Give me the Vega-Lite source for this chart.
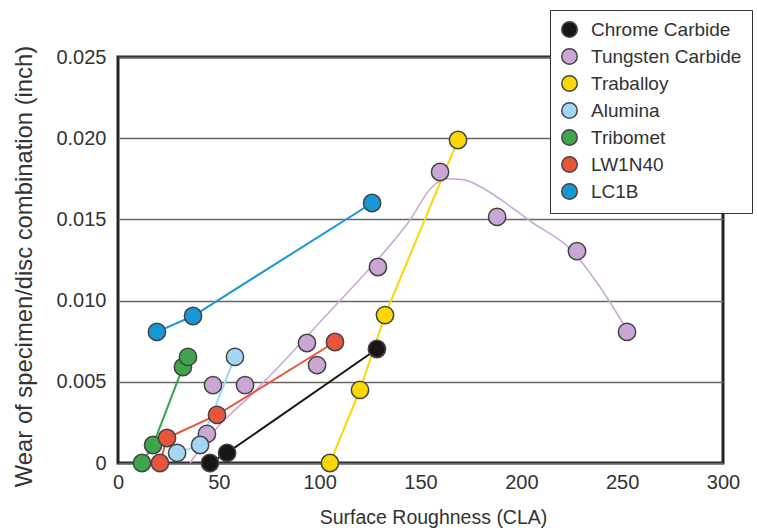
{
  "$schema": "https://vega.github.io/schema/vega-lite/v6.json",
  "width": 605,
  "height": 406,
  "autosize": {"type": "none"},
  "padding": {"left": 118, "top": 57, "right": 34, "bottom": 68},
  "background": "white",
  "config": {
    "font": "Liberation Sans",
    "view": {"stroke": "#222", "strokeWidth": 3},
    "axis": {"labelColor": "#333", "titleColor": "#333", "titleFontWeight": "normal", "domain": false, "ticks": false, "labelFlush": false}
  },
  "datasets": {
    "pts": [
      {"m": "Chrome Carbide", "x": 45.6, "y": 0},
      {"m": "Chrome Carbide", "x": 54.1, "y": 0.00062},
      {"m": "Chrome Carbide", "x": 128.4, "y": 0.00702},
      {"m": "Tungsten Carbide", "x": 44.1, "y": 0.00179},
      {"m": "Tungsten Carbide", "x": 47.1, "y": 0.0048},
      {"m": "Tungsten Carbide", "x": 63.0, "y": 0.0048},
      {"m": "Tungsten Carbide", "x": 93.7, "y": 0.00739},
      {"m": "Tungsten Carbide", "x": 98.7, "y": 0.00603},
      {"m": "Tungsten Carbide", "x": 128.9, "y": 0.01207},
      {"m": "Tungsten Carbide", "x": 159.7, "y": 0.01792},
      {"m": "Tungsten Carbide", "x": 188.0, "y": 0.01515},
      {"m": "Tungsten Carbide", "x": 227.6, "y": 0.01305},
      {"m": "Tungsten Carbide", "x": 252.4, "y": 0.00807},
      {"m": "Traballoy", "x": 105.1, "y": 0},
      {"m": "Traballoy", "x": 120.0, "y": 0.0045},
      {"m": "Traballoy", "x": 132.4, "y": 0.00911},
      {"m": "Traballoy", "x": 168.6, "y": 0.01989},
      {"m": "Alumina", "x": 29.3, "y": 0.00062},
      {"m": "Alumina", "x": 40.7, "y": 0.00111},
      {"m": "Alumina", "x": 58.0, "y": 0.00653},
      {"m": "Tribomet", "x": 11.9, "y": 0},
      {"m": "Tribomet", "x": 17.4, "y": 0.00111},
      {"m": "Tribomet", "x": 32.2, "y": 0.00591},
      {"m": "Tribomet", "x": 34.7, "y": 0.00653},
      {"m": "LW1N40", "x": 20.8, "y": 0},
      {"m": "LW1N40", "x": 24.3, "y": 0.00154},
      {"m": "LW1N40", "x": 49.1, "y": 0.00296},
      {"m": "LW1N40", "x": 107.6, "y": 0.00745},
      {"m": "LC1B", "x": 19.3, "y": 0.00807},
      {"m": "LC1B", "x": 37.2, "y": 0.00905},
      {"m": "LC1B", "x": 126.0, "y": 0.01601}
    ],
    "curve": [
      {"x": 35.7, "y": 0},
      {"x": 48.1, "y": 0.00203},
      {"x": 65.5, "y": 0.00413},
      {"x": 83.8, "y": 0.00647},
      {"x": 100.2, "y": 0.00868},
      {"x": 115.0, "y": 0.01065},
      {"x": 129.9, "y": 0.01268},
      {"x": 144.8, "y": 0.01496},
      {"x": 155.0, "y": 0.0169},
      {"x": 163.0, "y": 0.0175},
      {"x": 171.0, "y": 0.01745},
      {"x": 180.0, "y": 0.017},
      {"x": 190.0, "y": 0.0162},
      {"x": 205.8, "y": 0.01478},
      {"x": 224.1, "y": 0.0132},
      {"x": 239.0, "y": 0.01084},
      {"x": 252.4, "y": 0.00819}
    ]
  },
  "resolve": {"scale": {"color": "independent"}},
  "layer": [
    {
      "data": {"name": "curve"},
      "mark": {"type": "line", "color": "#c9a8d8", "strokeWidth": 1.6, "interpolate": "monotone"},
      "encoding": {
        "x": {"field": "x", "type": "quantitative"},
        "y": {"field": "y", "type": "quantitative"}
      }
    },
    {
      "data": {"name": "pts"},
      "transform": [{"filter": "datum.m !== 'Tungsten Carbide'"}],
      "mark": {"type": "line", "strokeWidth": 2},
      "encoding": {
        "x": {"field": "x", "type": "quantitative"},
        "y": {"field": "y", "type": "quantitative"},
        "color": {"field": "m", "type": "nominal", "legend": null,
          "scale": {"domain": ["Chrome Carbide", "Tungsten Carbide", "Traballoy", "Alumina", "Tribomet", "LW1N40", "LC1B"],
                    "range": ["#1b1616", "#caa6d4", "#fdd800", "#a2d6f2", "#3da54c", "#e9553b", "#1798d6"]}}
      }
    },
    {
      "data": {"name": "pts"},
      "mark": {"type": "point", "filled": true, "size": 300, "opacity": 1, "stroke": "#444", "strokeWidth": 1.5},
      "encoding": {
        "x": {"field": "x", "type": "quantitative",
          "scale": {"domain": [0, 300], "nice": false},
          "axis": {"values": [0, 50, 100, 150, 200, 250, 300], "grid": false, "labelFontSize": 20, "labelPadding": 9,
                   "title": "Surface Roughness (CLA)", "titleFontSize": 19.5, "titleX": 315, "titleY": 60, "titleBaseline": "alphabetic", "titleAnchor": null, "titleAlign": "center"}},
        "y": {"field": "y", "type": "quantitative",
          "scale": {"domain": [0, 0.025], "nice": false},
          "axis": {"values": [0, 0.005, 0.01, 0.015, 0.02, 0.025], "labelExpr": "datum.value === 0 ? '0' : format(datum.value, '.3f')",
                   "grid": true, "gridColor": "#666", "gridWidth": 1.5, "labelFontSize": 20, "labelPadding": 12,
                   "title": "Wear of specimen/disc combination (inch)", "titleFontSize": 23.8, "titleX": -94, "titleY": 209, "titleAngle": -90, "titleAlign": "center", "titleBaseline": "middle", "titleAnchor": null}},
        "color": {"field": "m", "type": "nominal", "title": null,
          "scale": {"domain": ["Chrome Carbide", "Tungsten Carbide", "Traballoy", "Alumina", "Tribomet", "LW1N40", "LC1B"],
                    "range": ["#1b1616", "#caa6d4", "#fdd800", "#a2d6f2", "#3da54c", "#e9553b", "#1798d6"]},
          "legend": {"orient": "none", "legendX": 432, "legendY": -47, "symbolType": "circle", "symbolSize": 240,
                     "symbolStrokeColor": "#444", "symbolStrokeWidth": 1.5, "symbolOpacity": 1,
                     "labelFontSize": 19, "labelColor": "#333", "labelOffset": 12, "rowPadding": 4, "padding": 10,
                     "fillColor": "white", "strokeColor": "#333",
                     "labelLimit": 300}}
      }
    }
  ]
}
